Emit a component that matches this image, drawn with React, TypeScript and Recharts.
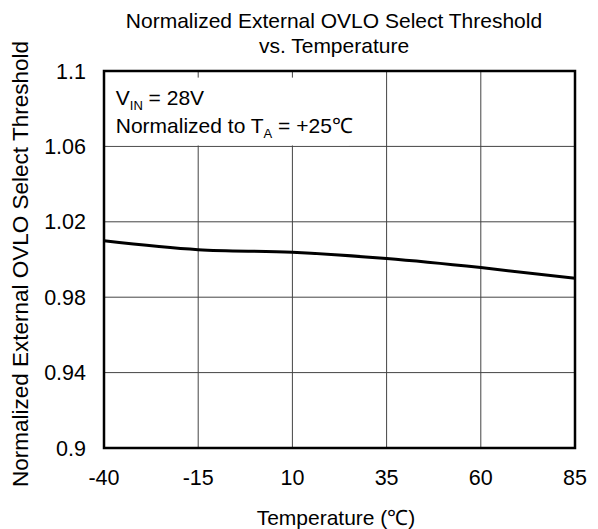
import React from "react";
import {
  LineChart,
  Line,
  XAxis,
  YAxis,
  CartesianGrid,
  ReferenceArea,
} from "recharts";

const temperatures = [-40, -15, 10, 35, 60, 85];
const thresholds = [1.0099, 1.0052, 1.0038, 1.0005, 0.9957, 0.99];
const xTicks = [-40, -15, 10, 35, 60, 85];
const yTicks = [0.9, 0.94, 0.98, 1.02, 1.06, 1.1];

const data = temperatures.map((t, i) => ({ t, v: thresholds[i] }));

const font = "'Liberation Sans', Arial, sans-serif";
const tick = { fill: "#000", fontSize: 21.5, fontFamily: font };

// white box with the test conditions, upper left of the plot
function Conditions(props: any) {
  const { x, y, width, height } = props.viewBox;
  return (
    <g fontFamily={font} fontSize={21} fill="#000">
      <rect x={x} y={y} width={width} height={height} fill="#fff" />
      <text x={x + 8} y={y + 27}>
        V<tspan dy={5} fontSize={13}>IN</tspan>
        <tspan dy={-5}> = 28V</tspan>
      </text>
      <text x={x + 8} y={y + 55}>
        Normalized to T<tspan dy={5} fontSize={13}>A</tspan>
        <tspan dy={-5}> = +25℃</tspan>
      </text>
    </g>
  );
}

export default function App() {
  return (
    <div style={{ position: "absolute", left: 0, top: 0, width: 598, height: 529 }}>
      <LineChart
        width={598}
        height={529}
        data={data}
        margin={{ top: 71, right: 23, left: 0, bottom: 0 }}
      >
        <CartesianGrid stroke="#444" strokeWidth={1} />
        <XAxis
          dataKey="t"
          type="number"
          domain={[-40, 85]}
          ticks={xTicks}
          tick={tick}
          tickLine={false}
          axisLine={false}
          tickSize={0}
          tickMargin={22}
          height={81}
        />
        <YAxis
          type="number"
          domain={[0.9, 1.1]}
          ticks={yTicks}
          tick={tick}
          tickLine={false}
          axisLine={false}
          tickSize={0}
          tickMargin={18}
          width={104}
          tickFormatter={(v: number) => String(v)}
        />
        <ReferenceArea
          x1={-39}
          x2={25}
          y1={1.0605}
          y2={1.0965}
          fill="none"
          stroke="none"
          ifOverflow="visible"
          label={<Conditions />}
        />
        <Line
          dataKey="v"
          type="monotone"
          stroke="#000"
          strokeWidth={3}
          dot={false}
          isAnimationActive={false}
        />
        <ReferenceArea
          x1={-40}
          x2={85}
          y1={0.9}
          y2={1.1}
          fill="none"
          stroke="#000"
          strokeWidth={2.5}
        />
      </LineChart>
      <svg
        width={598}
        height={529}
        style={{ position: "absolute", left: 0, top: 0, pointerEvents: "none" }}
        fontFamily={font}
        fontSize={21}
      >
        <text x={334} y={28} textAnchor="middle">Normalized External OVLO Select Threshold</text>
        <text x={334} y={53} textAnchor="middle">vs. Temperature</text>
        <text x={336} y={525} textAnchor="middle">Temperature (℃)</text>
        <text transform="translate(28, 264) rotate(-90)" textAnchor="middle" fontSize={22.5}>
          Normalized External OVLO Select Threshold
        </text>
      </svg>
    </div>
  );
}
